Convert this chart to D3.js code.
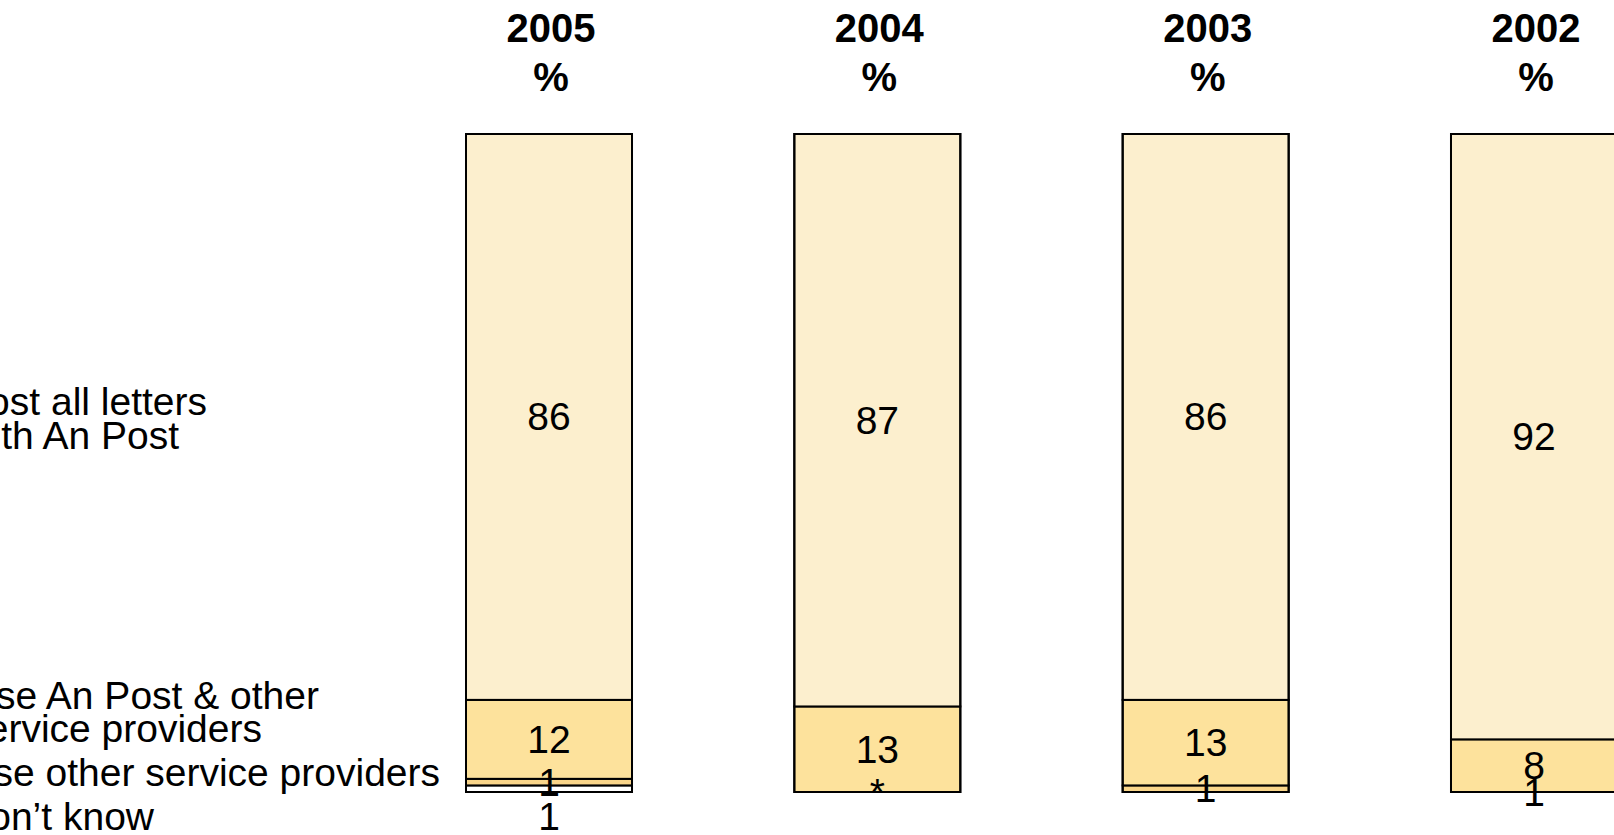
<!DOCTYPE html>
<html>
<head>
<meta charset="utf-8">
<script src="https://cdn.jsdelivr.net/npm/d3@7"></script>
<style>
  html, body { margin: 0; padding: 0; background: #fff; overflow: hidden; }
  svg { display: block; font-family: "Liberation Sans", Arial, sans-serif; }
</style>
</head>
<body>
<svg id="chart" width="1614" height="835"></svg>
<script>
// ---- data ----
const years = ["2005", "2004", "2003", "2002"];
const seriesNames = ["Post all letters with An Post", "Use An Post & other service providers", "Use other service providers", "Don\u2019t know"];
const allWithAnPost = [86, 87, 86, 92];
const anPostAndOther = [12, 13, 13, 8];
const otherOnly = [1, 0, 1, 0];
const dontKnow = [1, 0, 0, 0];
const allWithAnPostLabels = ["86", "87", "86", "92"];
const anPostAndOtherLabels = ["12", "13", "13", "8"];
const otherOnlyLabels = ["1", "*", "1", "1"];
const dontKnowLabels = ["1", "", "", ""];
const categoryLines = [["Post all letters", "with An Post"], ["Use An Post & other", "service providers"], ["Use other service providers"], ["Don\u2019t know"]];

// ---- layout ----
const svg = d3.select("#chart");
const keys = ["dk", "other", "both", "all"];
const table = years.map((y, i) => ({
  year: y,
  all: allWithAnPost[i], both: anPostAndOther[i], other: otherOnly[i], dk: dontKnow[i],
  labels: { all: allWithAnPostLabels[i], both: anPostAndOtherLabels[i], other: otherOnlyLabels[i], dk: dontKnowLabels[i] }
}));
const colors = { all: "#FCEFCE", both: "#FDE29C", other: "#F9D58A", dk: "#FFFFFF" };

const x = d3.scaleBand().domain(years).range([466, 1617]).paddingInner(0.4944).paddingOuter(0).align(0);
const y = d3.scaleLinear().domain([0, 100]).range([792, 134]);
const stacked = d3.stack().keys(keys)(table);

const fs = 39;

// segments
const g = svg.append("g");
stacked.forEach(layer => {
  g.append("g").selectAll("rect").data(layer.filter(d => d[1] > d[0])).join("rect")
    .attr("x", d => x(d.data.year))
    .attr("width", x.bandwidth())
    .attr("y", d => y(d[1]))
    .attr("height", d => y(d[0]) - y(d[1]))
    .attr("fill", colors[layer.key])
    .attr("stroke", "#000")
    .attr("stroke-width", 2);
});
// outer frame
g.append("g").selectAll("rect").data(table).join("rect")
  .attr("x", d => x(d.year)).attr("width", x.bandwidth())
  .attr("y", y(100)).attr("height", y(0) - y(100))
  .attr("fill", "none").attr("stroke", "#000").attr("stroke-width", 2);

// value labels
stacked.forEach(layer => {
  g.append("g").selectAll("text").data(layer).join("text")
    .attr("x", d => x(d.data.year) + x.bandwidth() / 2)
    .attr("y", d => layer.key === "dk" ? y(0) + 24 : y((d[0] + d[1]) / 2))
    .attr("text-anchor", "middle")
    .attr("dominant-baseline", "central")
    .attr("font-size", fs)
    .attr("fill", "#000")
    .text(d => d.data.labels[layer.key]);
});

// year headers
const hdr = svg.append("g").selectAll("g").data(years).join("g");
hdr.append("text")
  .attr("x", d => x(d) + x.bandwidth() / 2 + 2)
  .attr("y", 28).attr("text-anchor", "middle").attr("dominant-baseline", "central")
  .attr("font-size", 40).attr("font-weight", "bold").text(d => d);
hdr.append("text")
  .attr("x", d => x(d) + x.bandwidth() / 2 + 2)
  .attr("y", 77).attr("text-anchor", "middle").attr("dominant-baseline", "central")
  .attr("font-size", 40).attr("font-weight", "bold").text("%");

// category labels (cut off by the left edge, as in the source)
const catRight = [[207, 179], [319, 262], [440], [154]];
const catY = [[401, 435], [695, 728], [772], [816]];
const cat = svg.append("g");
categoryLines.forEach((lines, i) => {
  lines.forEach((line, j) => {
    cat.append("text")
      .attr("x", catRight[i][j]).attr("y", catY[i][j])
      .attr("text-anchor", "end").attr("dominant-baseline", "central")
      .attr("font-size", fs).text(line);
  });
});
</script>
</body>
</html>
